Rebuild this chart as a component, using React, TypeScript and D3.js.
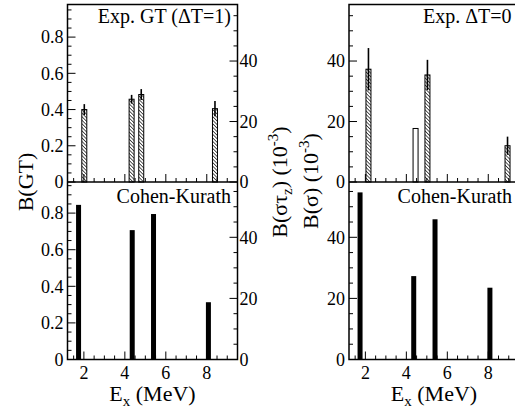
import React from 'react'
import * as d3 from 'd3'

// Exp. GT (dT=1), hatched bars with error bars
const expGTEnergy = [2.02, 4.33, 4.8, 8.4]
const expGTValue = [0.4, 0.457, 0.483, 0.405]
const expGTError = [0.03, 0.024, 0.03, 0.042]

// Cohen-Kurath, left panel (B(GT)) and right panel (B(sigma))
const ckEnergy = [1.74, 4.36, 5.4, 8.08]
const ckGT = [0.845, 0.707, 0.795, 0.313]
const ckSigma = [54.7, 27.3, 45.9, 23.5]

// Exp. dT=0
const expT0Energy = [2.15, 5.03, 8.94]
const expT0Value = [37.3, 35.4, 12.0]
const expT0Error = [7, 5, 3]
const openEnergy = [4.45]
const openValue = [17.7]

const xTicks = [2, 4, 6, 8]
const gtTicks = [0, 0.2, 0.4, 0.6, 0.8]
const sigmaTicks = [0, 20, 40]

const W = 515
const H = 411
const font = 'Liberation Serif'
const xDomain = [1.2, 9.5]
const topRange = [182, 4.5]
const botRange = [359.5, 182]
const barW = 5

const fmtGT = (v: number) => (v === 0 ? '0' : v.toFixed(1))

const xAxisTicks = (x: d3.ScaleLinear<number, number>, y0: number, labels: boolean) => (
  <g>
    {d3.range(1.5, 9.51, 0.5).map(v => {
      const major = xTicks.includes(v)
      return (
        <line key={v} x1={x(v)} x2={x(v)} y1={y0} y2={y0 - (major ? 8 : 4)} stroke="#000" strokeWidth={1} />
      )
    })}
    {labels &&
      xTicks.map(v => (
        <text key={'l' + v} x={x(v)} y={y0 + 19} textAnchor="middle" fontSize={18} fontFamily={font}>
          {v}
        </text>
      ))}
  </g>
)

const yTicksLeft = (y: d3.ScaleLinear<number, number>, x0: number, minorStep: number, majors: number[], fmt: (v: number) => string, maxV: number) => (
  <g>
    {d3.range(0, maxV, minorStep).map((v, i) => {
      const major = majors.some(m => Math.abs(m - v) < 1e-6)
      return <line key={i} x1={x0} x2={x0 + (major ? 8 : 4)} y1={y(v)} y2={y(v)} stroke="#000" strokeWidth={1} />
    })}
    {majors.map(v => (
      <text key={'l' + v} x={x0 - 4} y={y(v)} dy="0.35em" textAnchor="end" fontSize={18} fontFamily={font}>
        {fmt(v)}
      </text>
    ))}
  </g>
)

const yTicksRight = (y: d3.ScaleLinear<number, number>, x1: number, maxV: number) => (
  <g>
    {d3.range(0, maxV, 5).map(v => {
      const major = sigmaTicks.includes(v)
      return <line key={v} x1={x1} x2={x1 - (major ? 8 : 4)} y1={y(v)} y2={y(v)} stroke="#000" strokeWidth={1} />
    })}
    {sigmaTicks.map(v => (
      <text key={'l' + v} x={x1 + 2} y={y(v)} dy="0.35em" textAnchor="start" fontSize={18} fontFamily={font}>
        {v}
      </text>
    ))}
  </g>
)

const XTitle = ({ cx }: { cx: number }) => (
  <text x={cx} y={401} textAnchor="middle" fontSize={22} fontFamily={font}>
    E<tspan fontSize={15} dy={5}>x</tspan>
    <tspan dy={-5}> (MeV)</tspan>
  </text>
)

const App = () => {
  const xL = d3.scaleLinear().domain(xDomain).range([67.5, 237.5])
  const xR = d3.scaleLinear().domain(xDomain).range([349, 519])
  const yGTTop = d3.scaleLinear().domain([0, 0.98]).range(topRange)
  const yGTBot = d3.scaleLinear().domain([0, 0.97]).range(botRange)
  const ySigTop = d3.scaleLinear().domain([0, 58.7]).range(topRange)
  const ySigBot = d3.scaleLinear().domain([0, 58.1]).range(botRange)

  return (
    <svg
      width={W}
      height={H}
      style={{ position: 'absolute', left: 0, top: 0, background: '#fff' }}
      fontFamily={font}
    >
      <defs>
        <pattern id="hatch" width={2.5} height={2.5} patternUnits="userSpaceOnUse" patternTransform="rotate(-45)">
          <rect width={2.5} height={2.5} fill="#fff" />
          <line x1={0} y1={0} x2={0} y2={2.5} stroke="#000" strokeWidth={1.3} />
        </pattern>
      </defs>

      {/* ---------- left panel ---------- */}
      {/* top: experimental */}
      {expGTEnergy.map((e, i) => (
        <g key={'eg' + i}>
          <rect
            x={xL(e) - barW / 2}
            y={yGTTop(expGTValue[i])}
            width={barW}
            height={yGTTop(0) - yGTTop(expGTValue[i])}
            fill="url(#hatch)"
            stroke="#000"
            strokeWidth={1}
          />
          <line
            x1={xL(e)}
            x2={xL(e)}
            y1={yGTTop(expGTValue[i] + expGTError[i])}
            y2={yGTTop(expGTValue[i] - expGTError[i])}
            stroke="#000"
            strokeWidth={1.6}
          />
        </g>
      ))}
      {/* bottom: Cohen-Kurath */}
      {ckEnergy.map((e, i) => (
        <rect
          key={'ckl' + i}
          x={xL(e) - barW / 2}
          y={yGTBot(ckGT[i])}
          width={barW}
          height={yGTBot(0) - yGTBot(ckGT[i])}
          fill="#000"
        />
      ))}
      {xAxisTicks(xL, 182, false)}
      {xAxisTicks(xL, 359.5, true)}
      {yTicksLeft(yGTTop, 67.5, 0.05, gtTicks, fmtGT, 0.975)}
      {yTicksLeft(yGTBot, 67.5, 0.05, gtTicks.slice(1), fmtGT, 0.965)}
      <text x={63.5} y={yGTBot(0)} dy="0.35em" textAnchor="end" fontSize={18} fontFamily={font}>0</text>
      {yTicksRight(ySigTop, 237.5, 58)}
      {yTicksRight(ySigBot, 237.5, 58)}
      <rect x={67.5} y={4.5} width={170} height={355} fill="none" stroke="#000" strokeWidth={1.5} />
      <line x1={67.5} x2={237.5} y1={182} y2={182} stroke="#000" strokeWidth={1.5} />
      <text x={231} y={23} textAnchor="end" fontSize={20} fontFamily={font}>Exp. GT (ΔT=1)</text>
      <text x={231} y={203} textAnchor="end" fontSize={20} fontFamily={font}>Cohen-Kurath</text>
      <XTitle cx={152.5} />

      {/* ---------- right panel ---------- */}
      {expT0Energy.map((e, i) => (
        <g key={'e0' + i}>
          <rect
            x={xR(e) - barW / 2}
            y={ySigTop(expT0Value[i])}
            width={barW}
            height={ySigTop(0) - ySigTop(expT0Value[i])}
            fill="url(#hatch)"
            stroke="#000"
            strokeWidth={1}
          />
          <line
            x1={xR(e)}
            x2={xR(e)}
            y1={ySigTop(expT0Value[i] + expT0Error[i])}
            y2={ySigTop(expT0Value[i] - expT0Error[i])}
            stroke="#000"
            strokeWidth={1.6}
          />
        </g>
      ))}
      {openEnergy.map((e, i) => (
        <rect
          key={'op' + i}
          x={xR(e) - barW / 2}
          y={ySigTop(openValue[i])}
          width={barW}
          height={ySigTop(0) - ySigTop(openValue[i])}
          fill="#fff"
          stroke="#000"
          strokeWidth={1}
        />
      ))}
      {ckEnergy.map((e, i) => (
        <rect
          key={'ckr' + i}
          x={xR(e) - barW / 2}
          y={ySigBot(ckSigma[i])}
          width={barW}
          height={ySigBot(0) - ySigBot(ckSigma[i])}
          fill="#000"
        />
      ))}
      {xAxisTicks(xR, 182, false)}
      {xAxisTicks(xR, 359.5, true)}
      {yTicksLeft(ySigTop, 349, 5, sigmaTicks, v => String(v), 58)}
      {yTicksLeft(ySigBot, 349, 5, sigmaTicks, v => String(v), 58)}
      <rect x={349} y={4.5} width={170} height={355} fill="none" stroke="#000" strokeWidth={1.5} />
      <line x1={349} x2={519} y1={182} y2={182} stroke="#000" strokeWidth={1.5} />
      <text x={423} y={23} textAnchor="start" fontSize={20} fontFamily={font}>Exp. ΔT=0</text>
      <text x={512} y={203} textAnchor="end" fontSize={20} fontFamily={font}>Cohen-Kurath</text>
      <XTitle cx={434} />

      {/* ---------- axis titles ---------- */}
      <text transform="translate(33,182) rotate(-90)" textAnchor="middle" fontSize={22} fontFamily={font}>
        B(GT)
      </text>
      <text transform="translate(287,182) rotate(-90)" textAnchor="middle" fontSize={22} fontFamily={font}>
        B(στ<tspan fontSize={15} dy={5}>z</tspan>
        <tspan dy={-5}>)  (10</tspan>
        <tspan fontSize={15} dy={-9}>-3</tspan>
        <tspan dy={9}>)</tspan>
      </text>
      <text transform="translate(318,181) rotate(-90)" textAnchor="middle" fontSize={22} fontFamily={font}>
        B(σ)  (10<tspan fontSize={15} dy={-9}>-3</tspan>
        <tspan dy={9}>)</tspan>
      </text>
    </svg>
  )
}

export default App
